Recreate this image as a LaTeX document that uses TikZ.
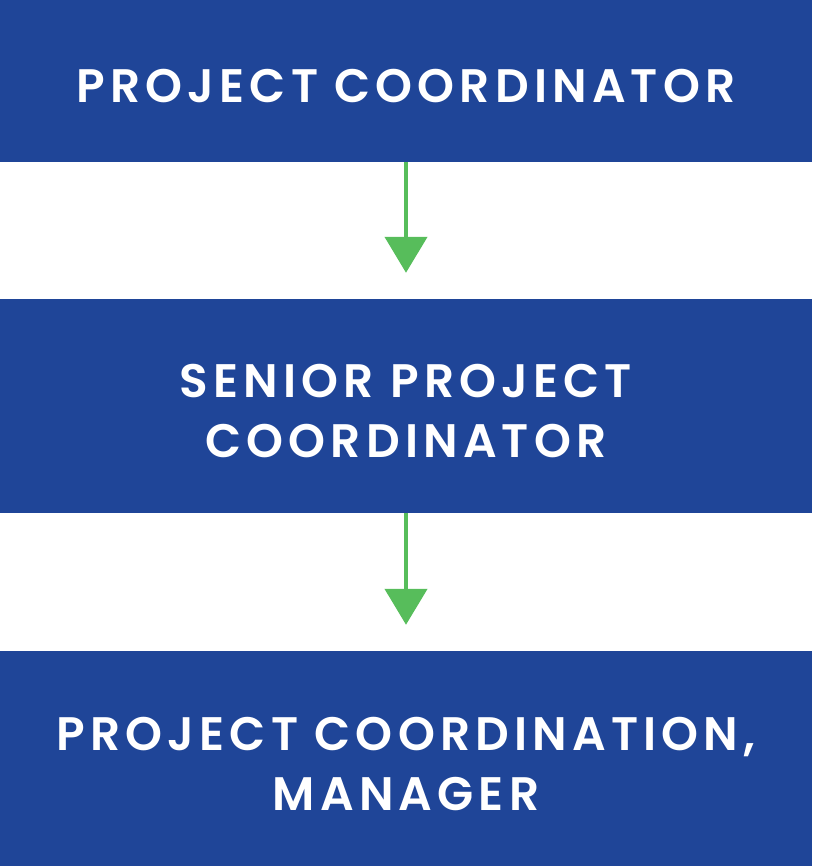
\documentclass[tikz,border=0pt]{standalone}
\usepackage{fontspec}
\setmainfont{Poppins}[BoldFont={* SemiBold},LetterSpace=11]
\usetikzlibrary{arrows.meta}
\definecolor{boxblue}{RGB}{31,69,152}
\definecolor{arrowgreen}{RGB}{87,189,91}
\newcommand{\capstrut}{\rule{0pt}{44pt}}
\tikzset{
  level/.style={fill=boxblue,text=white,minimum width=812pt,inner sep=0pt,
    align=center,font=\fontsize{47}{60}\selectfont\bfseries},
  promote/.style={draw=arrowgreen,line width=4.5pt,
    -{Triangle[length=36pt,width=42pt]},shorten >=26pt}
}
\begin{document}
\begin{tikzpicture}[x=1pt,y=-1pt]
  \useasboundingbox (0,0) rectangle (812,866);

  \node[level,minimum height=162pt] (Coordinator) at (406,81) {\capstrut PROJECT COORDINATOR};
  \node[level,minimum height=214pt] (Senior) at (406,406) {\capstrut SENIOR PROJECT\\COORDINATOR};
  \node[level,minimum height=215pt] (Manager) at (406,758.5) {\capstrut PROJECT COORDINATION,\\MANAGER};

  \draw[promote] (Coordinator) to (Senior);
  \draw[promote] (Senior) to (Manager);

\end{tikzpicture}
\end{document}
